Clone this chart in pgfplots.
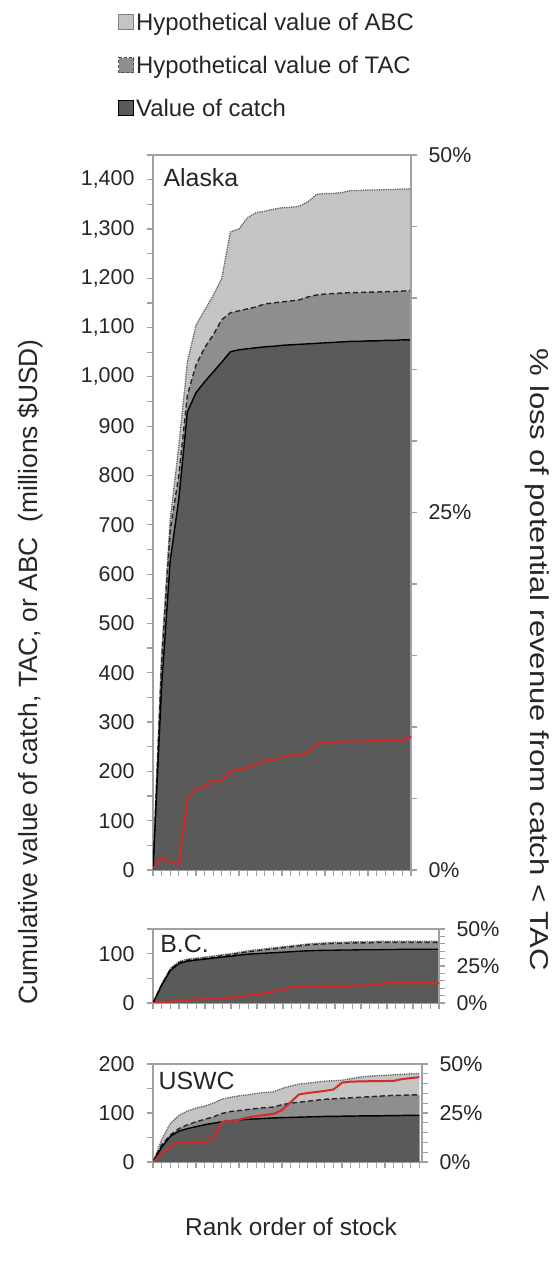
\documentclass[border=0pt]{standalone}
\usepackage{fontspec}
\setmainfont{Liberation Sans}
\usepackage{pgfplots}
\pgfplotsset{compat=1.18}
\definecolor{abcfill}{HTML}{C4C4C4}
\definecolor{tacfill}{HTML}{8E8E8E}
\definecolor{catchfill}{HTML}{5A5A5A}
\definecolor{axgray}{HTML}{A0A0A0}
\definecolor{txt}{HTML}{262626}
\definecolor{redl}{HTML}{D42A2A}
\definecolor{abcline}{HTML}{606060}

\pgfplotsset{
  base/.style={scale only axis, xmin=0, 
    axis line style={axgray, line width=1.2bp},
    every tick/.style={axgray, line width=1.2bp},
    tick align=outside, major tick length=6bp, minor tick length=6bp,
    /pgf/number format/assume math mode=true,
    tick label style={font=\fontsize{21.5}{24}\selectfont, text=txt},
  },
  leftax/.style={base, xtick pos=left, ytick pos=left, xtick distance=1, xticklabels={},
    yticklabel style={/pgf/number format/1000 sep={,}, xshift=-9bp}},
  rightax/.style={base, axis x line=none, axis y line*=right, ymin=0, ymax=50,
    ytick={0,25,50}, minor ytick={5,10,15,20,30,35,40,45},
    yticklabel style={xshift=8bp},
    yticklabel={\pgfmathprintnumber{\tick}\%}},
  abcA/.style={fill=abcfill, draw=none},
  tacA/.style={fill=tacfill, draw=none},
  catA/.style={fill=catchfill, draw=none},
  abcL/.style={abcline, line width=1.3bp, densely dotted},
  tacL/.style={black!85, line width=1.4bp, dash pattern=on 5bp off 3bp},
  catL/.style={black, line width=1.4bp},
  redL/.style={redl, line width=2bp},
}

\pgfplotstableread{
x abc tac cat
0 0 0 0
1 440 420 371
2 710 690 627
3 860 800 752
4 1030 963 929
5 1105 1024 968
6 1135 1059 990
7 1165 1085 1010
8 1200 1116 1030
9 1294 1130 1051
10 1300 1134 1055
11 1323 1138 1057
12 1333 1142 1059
13 1336 1148 1061
14 1340 1150 1062
15 1343 1152 1064
16 1344 1154 1065
17 1346 1156 1066
18 1355 1162 1067
19 1370 1166 1068
20 1372 1168 1069
21 1372 1169 1070
22 1374 1170 1071
23 1378 1171 1072
24 1378 1171 1072
25 1379 1172 1073
26 1379 1172 1073
27 1380 1173 1074
28 1380 1173 1074
29 1381 1174 1075
30 1381 1175 1075
}\alaska

\pgfplotstableread{
x red
0 0.1
1 0.85
2 0.6
3 0.4
4 5.0
5 5.7
6 5.8
7 6.3
8 6.2
9 6.9
10 7.0
11 7.2
12 7.4
13 7.7
14 7.7
15 7.9
16 8.0
17 8.1
18 8.2
19 8.8
20 8.9
21 8.9
22 9.0
23 9.0
24 9.0
25 9.0
26 9.1
27 9.1
28 9.1
29 9.1
30 9.3
}\alaskared

\pgfplotstableread{
x abc tac cat red
0 0 0 0 0
1 38 37 36 0.5
2 70 68 66 1.0
3 84 82 80 1.5
4 89 87 85 2.0
5 91 89 87 2.4
6 93 91 89 2.8
7 95 93 91 3.1
8 98 96 93 3.4
9 100 98 95 3.7
10 103 101 97 4.0
11 106 104 99 5.3
12 108 106 100 5.8
13 110 108 101 6.5
14 112 110 102 8.0
15 114 112 103 8.5
16 116 114 104 11.0
17 118 116 105 11.2
18 120 118 106 11.3
19 121 119 106.5 11.4
20 122 120 107 11.5
21 123 121 107 11.5
22 123 121 107.5 11.6
23 124 122 107.5 11.7
24 124 122 108 11.8
25 124 122 108 12.0
26 125 123 108 12.8
27 125 123 108.5 13.3
28 125 123 108.5 13.5
29 125 123 109 13.5
30 125 123 109 13.5
31 125 123 109 13.5
32 125 123 109 13.5
33 125 123 109 13.5
}\bc

\pgfplotstableread{
x abc tac cat red
0 0 0 0 0
1 45 35 30 4.5
2 78 55 52 7.5
3 95 68 63 10
4 104 76 68 10.2
5 110 82 72 10.1
6 114 87 76 10.3
7 120 92 79 12
8 128 99 82 20.3
9 132 103 84 21
10 135 105 86 21.6
11 137 107 87 22.7
12 140 109 88 23.4
13 142 111 89 24
14 143 112 90 24.5
15 150 117 90.5 26.5
16 155 120 91 30.5
17 159 122 91.5 34.5
18 161 124 92 35.2
19 163 126 92.5 35.7
20 165 128 93 36.3
21 166 129 93 37
22 167 130 93.5 40.5
23 170 131 93.5 41
24 173 132 94 41.1
25 175 133 94 41.2
26 176 134 94 41.3
27 177 135 94.5 41.3
28 178 136 94.5 41.4
29 179 136 95 42.3
30 180 137 95 42.8
31 180 137 95 43.3
}\uswc

\begin{document}
\begin{tikzpicture}[x=1bp,y=1bp]
\useasboundingbox (0,0) rectangle (553,1263);

% ---------- Alaska ----------
\begin{axis}[leftax, at={(153bp,393bp)}, anchor=south west, width=258bp, height=715bp,
  xmax=30, ymin=0, ymax=1450, ytick={0,100,...,1400}, minor ytick={50,150,...,1450},
  legend style={at={(-0.136,1.201)}, anchor=north west, draw=none, fill=none,
    font=\fontsize{24}{28}\selectfont, text=txt, inner sep=0pt, row sep=20bp,
    legend cell align=left},
  legend image code/.code={\draw[#1] (0bp,-7bp) rectangle (15bp,8bp);},
  ]
\addlegendimage{fill=abcfill, draw=gray, line width=0.8bp}
\addlegendentry{Hypothetical value of ABC}
\addlegendimage{fill=tacfill, draw=black!70, dash pattern=on 3bp off 2bp, line width=1bp}
\addlegendentry{Hypothetical value of TAC}
\addlegendimage{fill=catchfill, draw=black, line width=1bp}
\addlegendentry{Value of catch}
\addplot[abcA] table[x=x,y=abc]{\alaska} \closedcycle;
\addplot[tacA] table[x=x,y=tac]{\alaska} \closedcycle;
\addplot[catA] table[x=x,y=cat]{\alaska} \closedcycle;
\addplot[abcL] table[x=x,y=abc]{\alaska};
\addplot[tacL] table[x=x,y=tac]{\alaska};
\addplot[catL] table[x=x,y=cat]{\alaska};
\node[anchor=north west, inner sep=0pt, font=\fontsize{25}{28}\selectfont, text=txt] at (rel axis cs:0.04,0.982) {Alaska};
\end{axis}
\begin{axis}[rightax, at={(153bp,393bp)}, anchor=south west, width=258bp, height=715bp, xmax=30]
\addplot[redL] table[x=x,y=red]{\alaskared};
\end{axis}

% ---------- B.C. ----------
\begin{axis}[leftax, at={(153bp,260bp)}, anchor=south west, width=286bp, height=74bp,
  xmax=33, ymin=0, ymax=150, ytick={0,100}, minor ytick={50,150}]
\addplot[abcA] table[x=x,y=abc]{\bc} \closedcycle;
\addplot[tacA] table[x=x,y=tac]{\bc} \closedcycle;
\addplot[catA] table[x=x,y=cat]{\bc} \closedcycle;
\addplot[abcL] table[x=x,y=abc]{\bc};
\addplot[tacL] table[x=x,y=tac]{\bc};
\addplot[catL] table[x=x,y=cat]{\bc};
\node[anchor=north west, inner sep=0pt, font=\fontsize{25}{28}\selectfont, text=txt] at (rel axis cs:0.025,0.92) {B.C.};
\end{axis}
\begin{axis}[rightax, at={(153bp,260bp)}, anchor=south west, width=286bp, height=74bp, xmax=33]
\addplot[redL] table[x=x,y=red]{\bc};
\end{axis}

% ---------- USWC ----------
\begin{axis}[leftax, at={(153bp,101bp)}, anchor=south west, width=269bp, height=98bp,
  xmax=31.3, ymin=0, ymax=200, ytick={0,100,200}, minor ytick={50,150}]
\addplot[abcA] table[x=x,y=abc]{\uswc} \closedcycle;
\addplot[tacA] table[x=x,y=tac]{\uswc} \closedcycle;
\addplot[catA] table[x=x,y=cat]{\uswc} \closedcycle;
\addplot[abcL] table[x=x,y=abc]{\uswc};
\addplot[tacL] table[x=x,y=tac]{\uswc};
\addplot[catL] table[x=x,y=cat]{\uswc};
\node[anchor=north west, inner sep=0pt, font=\fontsize{25}{28}\selectfont, text=txt] at (rel axis cs:0.02,0.92) {USWC};
\end{axis}
\begin{axis}[rightax, at={(153bp,101bp)}, anchor=south west, width=269bp, height=98bp, xmax=31.3]
\addplot[redL] table[x=x,y=red]{\uswc};
\end{axis}

% ---------- outer labels ----------
\node[rotate=90, font=\fontsize{26.5}{30}\selectfont, text=txt] at (30,591) {Cumulative value of catch, TAC, or ABC\ \ (millions \$USD)};
\node[inner sep=0pt, text=txt] at (537,603) {\rotatebox{-90}{\scalebox{1.2}[1]{\fontsize{26}{30}\selectfont \% loss of potential revenue from catch < TAC}}};
\node[font=\fontsize{24.5}{28}\selectfont, text=txt] at (291,36) {Rank order of stock};
\end{tikzpicture}
\end{document}
